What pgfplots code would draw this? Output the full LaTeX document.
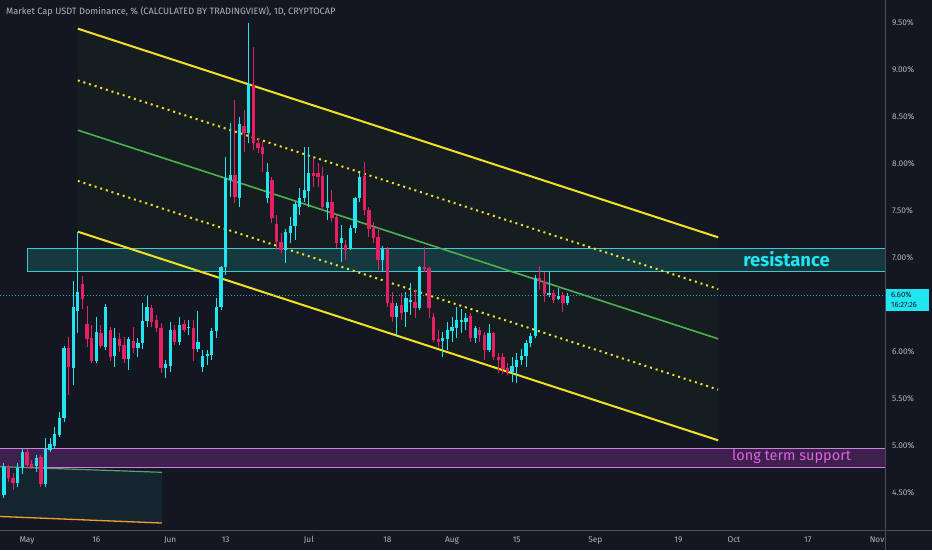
\documentclass[border=0pt]{standalone}
\usepackage{pgfplots}
\pgfplotsset{compat=1.18}
\usepackage{pgfplotstable}
\usepackage{fontspec}
\setmainfont{Fira Sans}
\definecolor{bg}{HTML}{131722}
\definecolor{upc}{HTML}{22E5F2}
\definecolor{dnc}{HTML}{E91E63}
\definecolor{axc}{HTML}{4A4E5A}
\definecolor{txt}{HTML}{B2B5BE}
\definecolor{chy}{HTML}{F2E025}
\definecolor{chg}{HTML}{4CAF50}
\definecolor{chfill}{HTML}{161D21}
\definecolor{resline}{HTML}{40C8D4}
\definecolor{resfill}{HTML}{15393F}
\definecolor{supfillc}{HTML}{BE3CC8}
\definecolor{supline}{HTML}{D27DE0}
\definecolor{suptxt}{HTML}{E060E8}
\definecolor{restxt}{HTML}{1EE6F4}
\definecolor{boxfill}{HTML}{14252F}
\definecolor{boxtop}{HTML}{5E9E6E}
\definecolor{orng}{HTML}{F0A030}

\pgfplotstableread{
d O H L C
-5 4.48 4.82 4.45 4.78
-2 4.61 4.82 4.56 4.77
-1 4.77 4.97 4.70 4.94
2 4.79 4.90 4.72 4.87
4 4.60 5.08 4.56 4.97
5 4.96 5.08 4.94 5.02
6 5.00 5.20 4.98 5.13
7 5.12 5.36 5.10 5.30
8 5.30 6.06 5.25 6.04
10 5.83 6.76 5.65 6.48
11 6.44 7.28 6.20 6.64
15 5.90 6.37 5.88 6.21
17 6.05 6.51 6.02 6.48
19 5.96 6.25 5.84 6.15
22 5.93 6.16 5.81 6.14
24 6.04 6.15 5.95 6.10
25 6.10 6.52 6.03 6.33
26 6.33 6.60 6.27 6.48
30 5.83 5.92 5.72 5.87
31 5.85 6.32 5.79 6.23
33 6.11 6.37 6.07 6.29
35 6.25 6.34 6.18 6.26
37 6.03 6.44 6.00 6.11
38 5.84 6.02 5.79 5.96
39 5.96 6.02 5.86 5.97
40 5.97 6.26 5.92 6.22
41 6.22 6.57 6.15 6.48
42 6.48 6.91 6.45 6.90
43 6.90 8.07 6.82 7.85
44 7.83 8.44 7.65 7.88
46 7.64 8.50 7.54 8.43
48 8.33 9.50 8.22 8.85
52 7.64 8.01 7.59 7.92
56 7.09 7.31 6.95 7.28
57 7.27 7.44 7.16 7.34
58 7.34 7.60 7.19 7.57
59 7.54 7.75 7.46 7.64
60 7.64 8.18 7.60 7.72
61 7.71 8.18 7.54 7.90
65 7.53 7.88 7.40 7.60
68 7.16 7.35 6.96 7.21
70 7.10 7.35 7.09 7.32
71 7.32 7.65 7.27 7.64
72 7.64 7.90 7.60 7.86
77 6.98 7.13 6.85 7.10
80 6.37 6.52 6.18 6.49
82 6.43 6.64 6.27 6.57
83 6.53 6.73 6.39 6.55
85 6.47 6.92 6.45 6.90
90 6.12 6.21 5.95 6.15
91 6.14 6.32 6.02 6.23
92 6.22 6.37 6.11 6.27
93 6.26 6.48 6.15 6.34
94 6.32 6.46 6.20 6.34
95 6.32 6.42 6.23 6.36
97 6.15 6.28 6.10 6.26
100 6.02 6.30 6.00 6.20
105 5.79 5.95 5.68 5.85
106 5.84 5.99 5.67 5.92
107 5.92 6.03 5.86 5.96
108 5.96 6.13 5.84 6.10
109 6.10 6.20 6.05 6.17
110 6.17 6.82 6.15 6.79
113 6.61 6.85 6.59 6.63
115 6.56 6.68 6.55 6.60
117 6.52 6.63 6.50 6.60
}\upT

\pgfplotstableread{
d O H L C
-4 4.77 4.80 4.62 4.66
-3 4.66 4.71 4.53 4.61
0 4.94 4.97 4.77 4.80
1 4.81 4.85 4.75 4.78
3 4.88 4.90 4.56 4.60
9 6.04 6.16 5.54 5.84
12 6.72 6.81 6.46 6.56
13 6.30 6.49 6.05 6.14
14 6.15 6.29 5.88 5.90
16 6.20 6.29 6.04 6.06
18 6.23 6.27 5.90 5.95
20 6.14 6.20 6.00 6.06
21 6.07 6.16 5.88 5.93
23 6.12 6.27 5.99 6.04
27 6.47 6.50 6.27 6.32
28 6.34 6.39 6.21 6.26
29 6.26 6.31 5.78 5.83
32 6.23 6.29 6.07 6.11
34 6.30 6.34 6.21 6.23
36 6.25 6.34 5.90 6.03
45 7.88 8.68 7.59 7.65
47 8.40 8.57 8.13 8.33
49 8.84 9.25 8.15 8.22
50 8.22 8.28 8.12 8.17
51 8.18 8.23 7.92 8.11
53 7.83 7.86 7.37 7.43
54 7.36 7.46 7.09 7.17
55 7.17 7.27 7.05 7.09
62 7.90 8.06 7.76 7.87
63 7.90 8.01 7.76 7.86
64 7.87 7.97 7.51 7.54
66 7.60 7.72 7.38 7.43
67 7.44 7.46 7.11 7.16
69 7.14 7.19 6.98 7.09
73 7.87 8.02 7.46 7.51
74 7.51 7.54 7.22 7.31
75 7.32 7.38 7.16 7.21
76 7.22 7.33 6.87 6.98
78 7.10 7.12 6.48 6.52
79 6.52 6.64 6.32 6.37
81 6.50 6.63 6.34 6.42
84 6.53 6.66 6.36 6.47
86 6.90 7.12 6.85 6.88
87 6.89 6.90 6.36 6.47
88 6.37 6.42 6.11 6.13
89 6.14 6.23 6.05 6.11
96 6.38 6.42 6.11 6.15
98 6.23 6.27 6.11 6.18
99 6.18 6.21 5.92 6.02
101 6.20 6.21 5.92 5.95
102 5.95 5.99 5.78 5.92
103 5.95 5.99 5.77 5.82
104 5.83 5.88 5.75 5.79
111 6.79 6.91 6.66 6.75
112 6.76 6.85 6.53 6.62
114 6.63 6.66 6.52 6.55
116 6.61 6.64 6.43 6.52
}\dnT

\begin{document}
\begin{tikzpicture}
\path[use as bounding box] (0,0) rectangle (932pt,550pt);
\fill[bg] (0,0) rectangle (932pt,550pt);
\begin{axis}[
  at={(0pt,20pt)}, anchor=south west,
  scale only axis, width=885pt, height=530pt,
  xmin=-5.844, xmax=185.71, ymin=4.106, ymax=9.745,
  axis line style={draw=none},
  major tick length=0pt,
  xtick={0,15,31,43,61,78,92,106,123,141,153,169,184},
  xticklabels={May,16,Jun,13,Jul,18,Aug,15,Sep,19,Oct,17,Nov},
  ytick={4.5,5,5.5,6,6.5,7,7.5,8,8.5,9,9.5},
  yticklabels={4.50\%,5.00\%,5.50\%,6.00\%,,7.00\%,7.50\%,8.00\%,8.50\%,9.00\%,9.50\%},
  yticklabel pos=right,
  ticklabel style={font=\fontsize{8.3}{9}\selectfont, text=txt},
  xticklabel style={anchor=base, yshift=-12pt, inner sep=0pt},
  yticklabel style={anchor=west, inner sep=0pt, xshift=7pt},
]
% boxes
\addplot[draw=none, fill=supfillc, fill opacity=0.25] coordinates {(-5.844,4.77) (185.71,4.77) (185.71,4.97) (-5.844,4.97)} -- cycle;
\addplot[supline, line width=1pt] coordinates {(-5.844,4.97) (185.71,4.97)};
\addplot[supline, line width=1pt] coordinates {(-5.844,4.77) (185.71,4.77)};
\addplot[draw=none, fill=boxfill] coordinates {(-5.844,4.78) (29.2,4.72) (29.2,4.18) (-5.844,4.25)} -- cycle;
\addplot[boxtop, line width=1.2pt] coordinates {(-5.844,4.78) (29.2,4.72)};
\addplot[orng, line width=1.3pt] coordinates {(-5.844,4.25) (29.2,4.18)};
% channel fill
\addplot[draw=none, fill=chfill] coordinates {(11,9.44) (149.6,7.22) (149.6,5.06) (11,7.28)} -- cycle;
\addplot[draw=none, fill=resfill] coordinates {(0,6.86) (185.71,6.86) (185.71,7.10) (0,7.10)} -- cycle;
\addplot[resline, line width=1pt] coordinates {(0,6.86) (185.71,6.86) (185.71,7.10) (0,7.10) (0,6.86)};
% channel lines
\addplot[chy, line width=2pt] coordinates {(11,9.44) (149.6,7.22)};
\addplot[chy, line width=2pt] coordinates {(11,7.28) (149.6,5.06)};
\addplot[chg, line width=1.6pt] coordinates {(11,8.36) (149.6,6.14)};
\addplot[chy, line width=2pt, dash pattern=on 2pt off 3.9pt] coordinates {(11,8.89) (149.6,6.67)};
\addplot[chy, line width=2pt, dash pattern=on 2pt off 3.9pt] coordinates {(11,7.82) (149.6,5.60)};
% price line
\addplot[upc!70!bg, line width=0.6pt, dash pattern=on 1pt off 2pt] coordinates {(-5.844,6.60) (185.71,6.60)};
% candles: wicks
\addplot[draw=none, mark=none, error bars/.cd, y dir=plus, y explicit, error mark=none,
  error bar style={draw=upc, line width=0.9pt}]
  table[x=d, y=L, y error plus expr=\thisrow{H}-\thisrow{L}] {\upT};
\addplot[draw=none, mark=none, error bars/.cd, y dir=plus, y explicit, error mark=none,
  error bar style={draw=dnc, line width=0.9pt}]
  table[x=d, y=L, y error plus expr=\thisrow{H}-\thisrow{L}] {\dnT};
% candles: bodies
\addplot[draw=none, mark=none, error bars/.cd, y dir=plus, y explicit, error mark=none,
  error bar style={draw=upc, line width=3.3pt}]
  table[x=d, y=O, y error plus expr={max(\thisrow{C}-\thisrow{O},0.015)}] {\upT};
\addplot[draw=none, mark=none, error bars/.cd, y dir=plus, y explicit, error mark=none,
  error bar style={draw=dnc, line width=3.3pt}]
  table[x=d, y=C, y error plus expr={max(\thisrow{O}-\thisrow{C},0.015)}] {\dnT};
% labels
\node[text=restxt, font=\fontsize{18.5}{20}\selectfont\bfseries, inner sep=0pt] at (axis cs:164.4,6.99) {resistance};
\node[text=suptxt, font=\fontsize{14.5}{16}\selectfont, inner sep=0pt] at (axis cs:165.5,4.883) {long term support};
\end{axis}
\fill[bg] (886pt,0) rectangle (932pt,19.5pt);
\draw[axc, line width=0.8pt] (885pt,0) -- (885pt,550pt);
\draw[axc, line width=0.8pt] (0,20pt) -- (932pt,20pt);
% current price label
\fill[upc] (886pt,239pt) rectangle (929pt,261pt);
\node[text=bg, font=\fontsize{7.6}{8}\selectfont, inner sep=0pt, anchor=west] at (891pt,255.5pt) {6.60\%};
\node[text=bg, font=\fontsize{7.6}{8}\selectfont, inner sep=0pt, anchor=west] at (891pt,245pt) {16:27:26};
% title
\node[text=txt, font=\fontsize{9.2}{10}\selectfont, inner sep=0pt, anchor=west] at (6pt,538pt) {Market Cap USDT Dominance, \% (CALCULATED BY TRADINGVIEW), 1D, CRYPTOCAP};
\end{tikzpicture}
\end{document}
